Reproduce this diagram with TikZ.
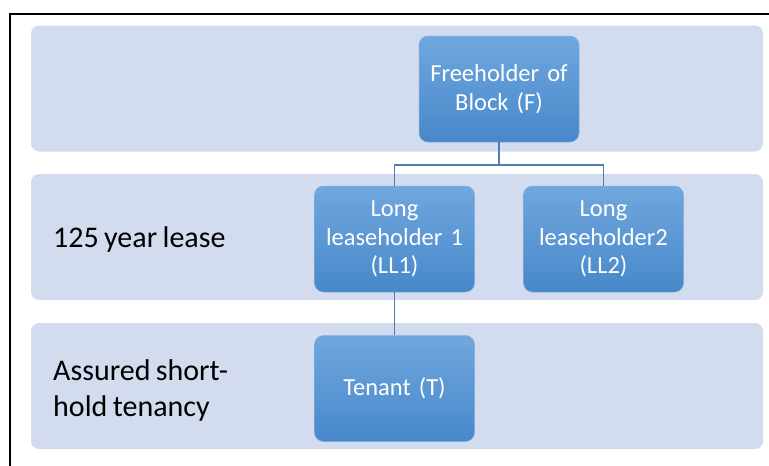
\documentclass[tikz,border=0pt]{standalone}
\usepackage{fontspec}
\setmainfont{Carlito}[WordSpace=0.8]
\definecolor{Band}{HTML}{D2DCEE}
\definecolor{BoxTop}{HTML}{70A7DE}
\definecolor{BoxBot}{HTML}{4788CA}
\definecolor{BoxEdge}{HTML}{7FB0E2}
\definecolor{Link}{HTML}{4E7DB0}
\usetikzlibrary{positioning}

\begin{document}
\begin{tikzpicture}[
    x=1pt, y=-1pt,
    band/.style={
      fill=Band, rounded corners=8pt, inner sep=0pt,
      minimum width=732pt, minimum height=126pt
    },
    party/.style={
      draw=BoxEdge, line width=0.5pt, rounded corners=9pt,
      top color=BoxTop, bottom color=BoxBot, text=white,
      align=center, text width=156pt, inner sep=0pt,
      minimum width=160pt, minimum height=106pt,
      font=\fontsize{24.5}{28.5}\selectfont
    },
    tier/.style={
      anchor=west, align=left, inner sep=0pt,
      font=\fontsize{30}{36}\selectfont
    },
    conn/.style={draw=Link, line width=1.1pt}
  ]
    \useasboundingbox (0,0) rectangle (769,466);
    \draw[line width=1.3pt] (10,466) -- (10,14) -- (769,14);
    % tiers
    \node[band] (b1) at (397,88.5) {};
    \node[band] (b2) at (397,237) {};
    \node[band] (b3) at (397,386) {};
    \node[tier] (l2) at (53,239) {125 year lease};
    \node[tier] (l3) at (53,390) {Assured short-\\hold tenancy};
    % parties
    \node[party] (f) at (499,89) {Freeholder of\\Block (F)};
    \node[party] (ll1) at (394.5,239) {Long\\leaseholder 1\\(LL1)};
    \node[party] (ll2) at (603.5,239) {Long\\leaseholder2\\(LL2)};
    \node[party] (t) at (394.5,388.5) {Tenant (T)};
    \coordinate (j) at (499,165);
    \draw[conn] (f.south) -- (j) -| (ll1.north);
    \draw[conn] (j) -| (ll2.north);
    \draw[conn] (ll1.south) -- (t.north);
  \end{tikzpicture}
\end{document}
